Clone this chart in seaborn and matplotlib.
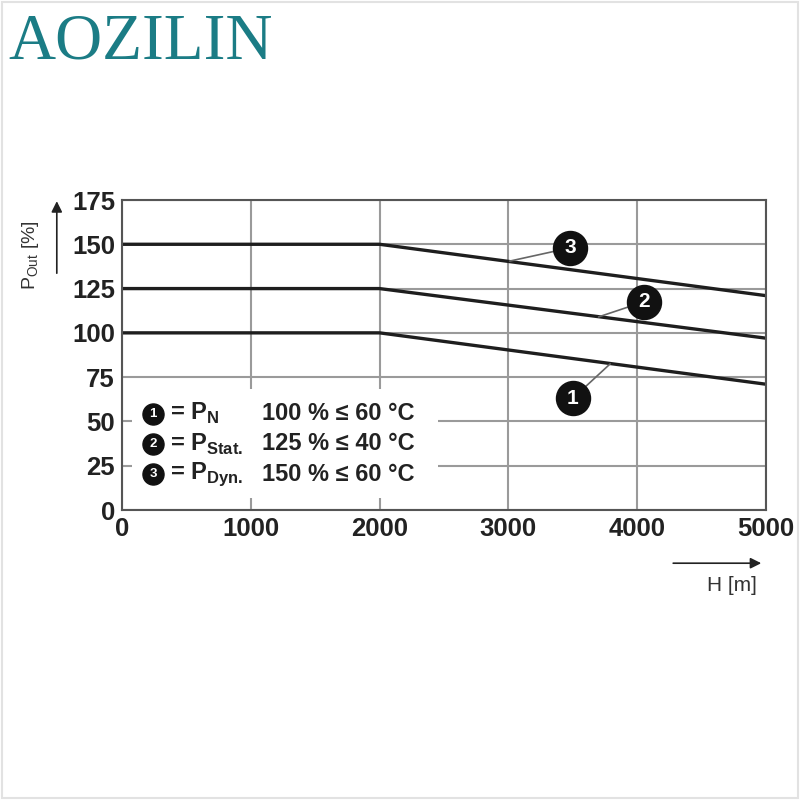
import matplotlib
matplotlib.use("Agg")
import matplotlib.pyplot as plt
import seaborn as sns
import pandas as pd

# Derating curves
altitude = [0, 2000, 5000]
p_n = [100, 100, 71]
p_stat = [125, 125, 97]
p_dyn = [150, 150, 121]

x_ticks = [0, 1000, 2000, 3000, 4000, 5000]
y_ticks = [0, 25, 50, 75, 100, 125, 150, 175]

# Callout markers: (label, marker x, marker y, leader end x, leader end y)
callouts = [("3", 3480, 148, 3010, 140.5),
            ("2", 4050, 117.5, 3700, 109),
            ("1", 3500, 63, 3790, 82.5)]

legend_rows = [("1", "= P$_\\mathregular{N}$", "100 % \u2264 60 \u00b0C"),
               ("2", "= P$_\\mathregular{Stat.}$", "125 % \u2264 40 \u00b0C"),
               ("3", "= P$_\\mathregular{Dyn.}$", "150 % \u2264 60 \u00b0C")]

df = pd.DataFrame({
    "H": altitude * 3,
    "P": p_n + p_stat + p_dyn,
    "curve": ["1"] * 3 + ["2"] * 3 + ["3"] * 3,
})

sns.set_style("white")
plt.rcParams["font.family"] = ["Liberation Sans", "DejaVu Sans"]

fig = plt.figure(figsize=(8, 8), dpi=100)
ax = fig.add_axes([0.1525, 0.3625, 0.805, 0.3875])

sns.lineplot(data=df, x="H", y="P", units="curve", estimator=None,
             color="#1e1e1e", linewidth=2.4, ax=ax, legend=False)

ax.set_xlim(0, 5000)
ax.set_ylim(0, 175)
ax.set_xticks(x_ticks)
ax.set_yticks(y_ticks)
ax.grid(True, color="#9a9a9a", linewidth=1.5)
ax.set_axisbelow(True)
ax.tick_params(length=0, labelsize=18.5, pad=5)
for lab in ax.get_xticklabels() + ax.get_yticklabels():
    lab.set_fontweight("bold")
    lab.set_color("#222222")
for sp in ax.spines.values():
    sp.set_color("#555555")
    sp.set_linewidth(1.5)
ax.set_xlabel("")
ax.set_ylabel("")

# Legend box (white, covers the grid)
ax.add_patch(plt.Rectangle((0.015, 0.04), 0.475, 0.35, transform=ax.transAxes,
                           facecolor="white", edgecolor="none", zorder=3))
for i, (num, sym, cond) in enumerate(legend_rows):
    yy = 0.31 - i * 0.097
    ax.scatter([0.048], [yy], s=230, color="#111111", transform=ax.transAxes,
               zorder=5, clip_on=False)
    ax.text(0.048, yy, num, color="white", fontsize=9.5, fontweight="bold",
            ha="center", va="center", transform=ax.transAxes, zorder=6)
    ax.text(0.075, yy, sym, fontsize=17, fontweight="bold", color="#222222",
            ha="left", va="center", transform=ax.transAxes, zorder=6)
    ax.text(0.218, yy, cond, fontsize=17, fontweight="bold", color="#222222",
            ha="left", va="center", transform=ax.transAxes, zorder=6)

# Curve callouts
for num, mx, my, lx, ly in callouts:
    ax.plot([mx, lx], [my, ly], color="#666666", linewidth=1.2, zorder=4)
    ax.scatter([mx], [my], s=600, color="#111111", zorder=5)
    ax.text(mx, my, num, color="white", fontsize=15, fontweight="bold",
            ha="center", va="center", zorder=6)

# Axis titles with arrows
fig.text(0.038, 0.638, "P$_\\mathregular{Out}$ [%]", rotation=90, fontsize=14,
         color="#333333", ha="center", va="bottom")
fig.add_artist(matplotlib.patches.FancyArrowPatch(
    (0.071, 0.655), (0.071, 0.752), transform=fig.transFigure,
    arrowstyle="-|>", mutation_scale=16, color="#222222", linewidth=1.2))
fig.text(0.915, 0.268, "H [m]", fontsize=15, color="#333333", ha="center", va="center")
fig.add_artist(matplotlib.patches.FancyArrowPatch(
    (0.838, 0.296), (0.955, 0.296), transform=fig.transFigure,
    arrowstyle="-|>", mutation_scale=16, color="#222222", linewidth=1.2))

# Logo
fig.text(0.010, 0.946, "AOZILIN", fontsize=47, family="Liberation Serif",
         color="#1b7c85", ha="left", va="center")

# faint frame around the picture
fig.add_artist(plt.Rectangle((0.002, 0.002), 0.996, 0.996, transform=fig.transFigure,
                             facecolor="none", edgecolor="#e2e2e2", linewidth=1.5))

fig.savefig("out.png", dpi=100, facecolor="white")
